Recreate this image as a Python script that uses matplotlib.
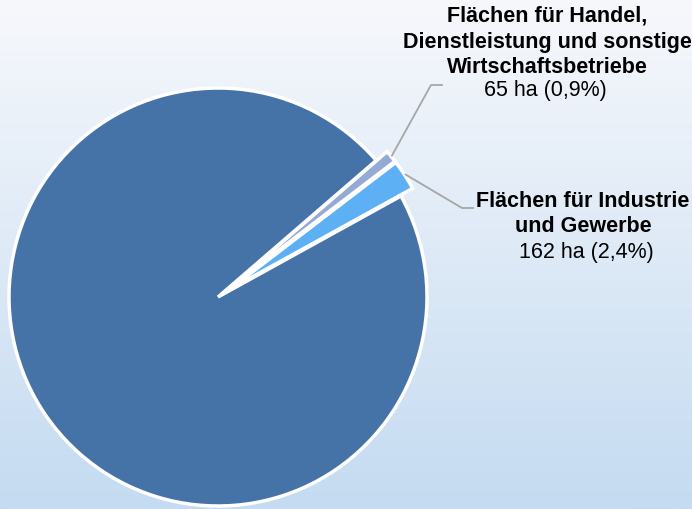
import numpy as np
import matplotlib.pyplot as plt
from matplotlib.colors import LinearSegmentedColormap

# Flächenanteile (ha); Reihenfolge wie im Kreis, im Uhrzeigersinn
categories = ['Flächen für Handel,\nDienstleistung und sonstige\nWirtschaftsbetriebe',
              'Flächen für Industrie\nund Gewerbe',
              'Sonstige Flächen']
hectares = [65, 162, 6640]
shares = ['0,9%', '2,4%', '']
colors = ['#95A9D5', '#5DB0F4', '#4573A7']

W, H = 692, 509
plt.rcParams['font.family'] = ['Liberation Sans', 'DejaVu Sans']

fig = plt.figure(figsize=(W / 100, H / 100), dpi=100)
ax = fig.add_axes([0, 0, 1, 1])

# Hintergrund: Verlauf von fast weiß nach hellblau
bg = LinearSegmentedColormap.from_list('bg', ['#C4DBF1', '#F7F8FC'])
grad = np.linspace(0, 1, 256).reshape(-1, 1)
ax.imshow(grad, cmap=bg, aspect='auto', extent=(0, W, 0, H), origin='lower', zorder=0)

center = (218, 212)
radius = 209
explode = [14, 14, 0]   # matplotlib nimmt das in Dateneinheiten
wedges, _ = ax.pie(hectares, colors=colors, explode=explode, startangle=40.8,
                   counterclock=False, center=center, radius=radius,
                   wedgeprops=dict(edgecolor='white', linewidth=2.5), frame=True)
ax.set_xlim(0, W)
ax.set_ylim(0, H)
ax.set_aspect('equal')
ax.axis('off')

# Führungslinien vom Segmentrand zum Knick
elbows = [((431, H - 85), (442, H - 85)), ((462, H - 208), (473, H - 208))]
for i in range(2):
    w = wedges[i]
    ang = np.deg2rad((w.theta1 + w.theta2) / 2)
    cx, cy = w.center
    sx = cx + (w.r + 1) * np.cos(ang)
    sy = cy + (w.r + 1) * np.sin(ang)
    (ex, ey), (hx, hy) = elbows[i]
    ax.plot([sx, ex, hx], [sy, ey, hy], color='#A6A6A6', lw=1.3, zorder=3)

fs = 15.5
# Handel
ax.text(547, H - 42, categories[0], ha='center', va='center', fontsize=fs,
        fontweight='bold', linespacing=1.3)
ax.text(545, H - 90, f'{hectares[0]} ha ({shares[0]})', ha='center', va='center',
        fontsize=fs)
# Industrie
ax.text(583, H - 214, categories[1], ha='center', va='center', fontsize=fs,
        fontweight='bold', linespacing=1.3)
ax.text(586, H - 252, f'{hectares[1]} ha ({shares[1]})', ha='center', va='center',
        fontsize=fs)

fig.savefig('out.png', dpi=100)
